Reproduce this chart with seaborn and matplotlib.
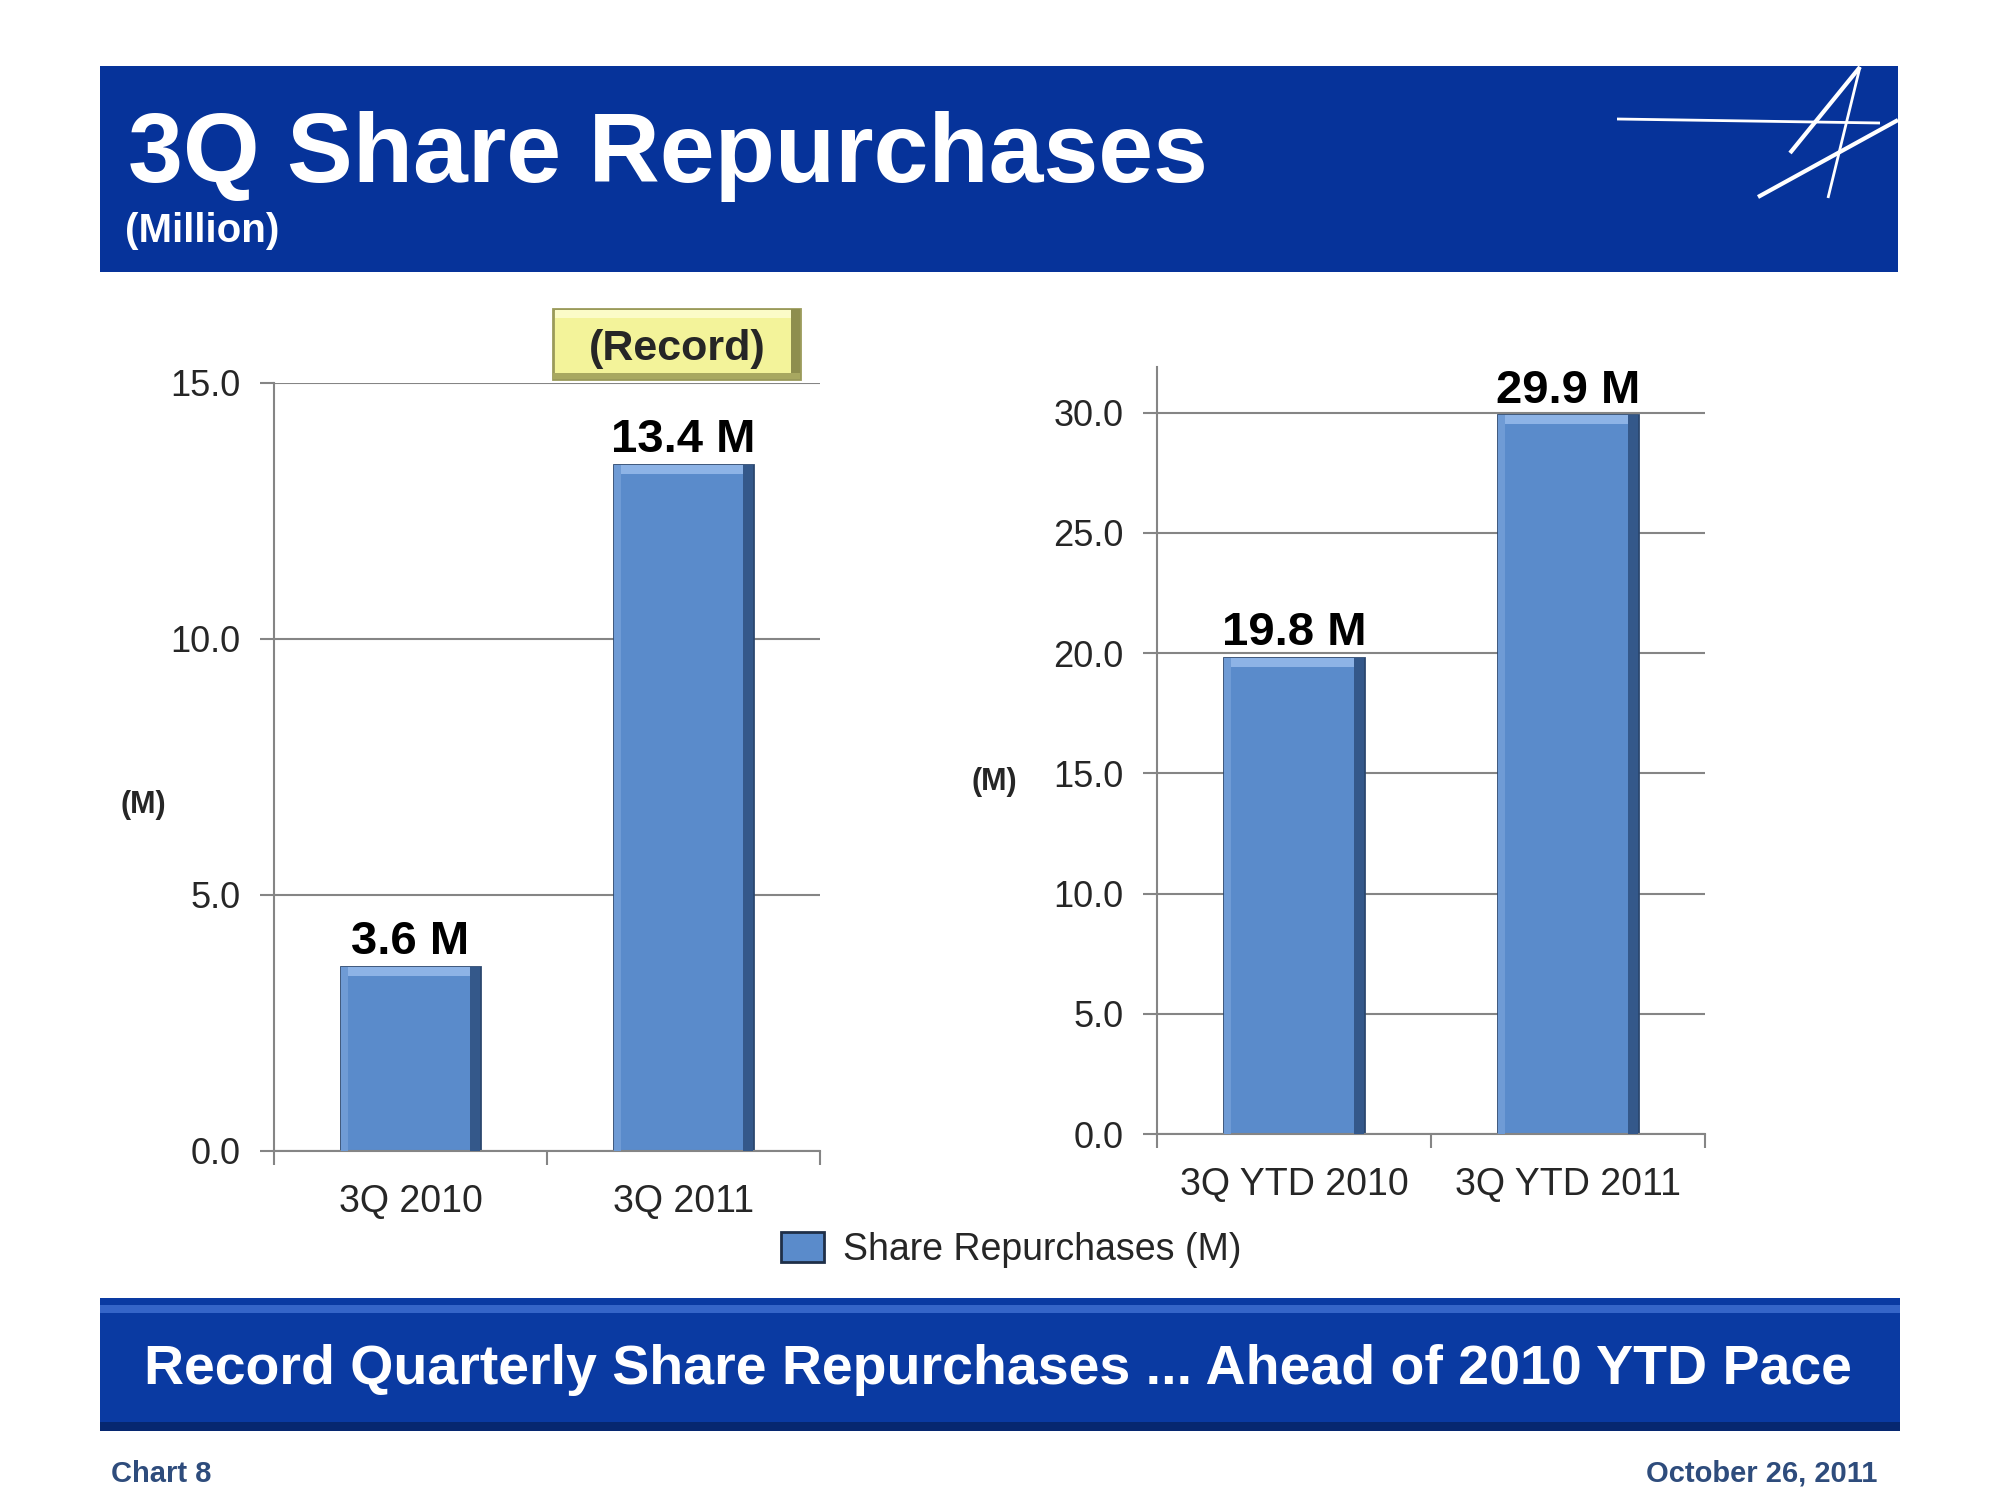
import matplotlib
matplotlib.use("Agg")
import matplotlib.pyplot as plt
from matplotlib.patches import Rectangle, Patch
from matplotlib.lines import Line2D
import seaborn as sns

# data
QTR_LABELS = ["3Q 2010", "3Q 2011"]
QTR_VALUES = [3.6, 13.4]
YTD_LABELS = ["3Q YTD 2010", "3Q YTD 2011"]
YTD_VALUES = [19.8, 29.9]
QTR_TICKS = [0.0, 5.0, 10.0, 15.0]
YTD_TICKS = [0.0, 5.0, 10.0, 15.0, 20.0, 25.0, 30.0]

BAR_COLOR = "#5A8BCB"
BAR_EDGE = "#2B4870"
BAND_BLUE = "#06339A"
GRID_GRAY = "#858585"

sns.set_theme(style="white")
plt.rcParams["font.family"] = ["Liberation Sans", "DejaVu Sans"]

fig = plt.figure(figsize=(20, 15), dpi=100)

# header band
fig.patches.append(Rectangle((0.05, 0.8187), 0.899, 0.1373, transform=fig.transFigure,
                             facecolor=BAND_BLUE, edgecolor="none", zorder=0))
fig.text(0.064, 0.879, "3Q Share Repurchases", color="white", fontsize=71,
         fontweight="bold", ha="left", va="baseline")
fig.text(0.0625, 0.846, "(Million)", color="white", fontsize=29,
         fontweight="bold", ha="left", va="center")

# logo strokes
def px(x, y):
    return x / 2000, 1 - y / 1500

logo = [((1617, 119), (1880, 123), 2.0),
        ((1860, 67), (1790, 153), 3.0),
        ((1860, 67), (1828, 198), 2.0),
        ((1898, 120), (1758, 197), 3.0)]
for a, b, w in logo:
    (x0, y0), (x1, y1) = px(*a), px(*b)
    fig.add_artist(Line2D([x0, x1], [y0, y1], color="white", lw=w,
                          transform=fig.transFigure, solid_capstyle="butt"))


def bevel(ax, ymax):
    # light top edge and dark right edge on each bar, from the bar geometry
    for p in list(ax.patches):
        x, y, w, h = p.get_x(), p.get_y(), p.get_width(), p.get_height()
        d = ymax * 0.012
        ax.add_patch(Rectangle((x, y + h - d), w, d, facecolor="#8DB3E6",
                               edgecolor="none", zorder=3))
        ax.add_patch(Rectangle((x + w * 0.93, y), w * 0.07, h, facecolor="#34588A",
                               edgecolor="none", zorder=3))
        ax.add_patch(Rectangle((x, y), w * 0.05, h, facecolor="#6F9BD5",
                               edgecolor="none", zorder=3))


def style_axes(ax, labels, values, ticks, ymax):
    sns.barplot(x=labels, y=values, ax=ax, color=BAR_COLOR, saturation=1,
                width=0.51, edgecolor=BAR_EDGE, linewidth=2, zorder=2)
    ax.set_ylim(0, ymax)
    ax.set_xlim(-0.5, len(labels) - 0.5)
    ax.set_yticks(ticks)
    ax.set_yticklabels([f"{t:.1f}" for t in ticks])
    ax.yaxis.grid(True, color=GRID_GRAY, lw=1.5)
    ax.xaxis.grid(False)
    ax.set_axisbelow(True)
    for s in ["top", "right"]:
        ax.spines[s].set_visible(False)
    for s in ["left", "bottom"]:
        ax.spines[s].set_color(GRID_GRAY)
        ax.spines[s].set_linewidth(1.5)
    ax.tick_params(axis="y", length=10, width=1.5, color=GRID_GRAY, direction="out",
                   labelsize=26, pad=14, left=True)
    ax.tick_params(axis="x", length=0, labelsize=27, pad=24)
    ax.set_xticks([i - 0.5 for i in range(len(labels) + 1)], minor=True)
    ax.tick_params(axis="x", which="minor", length=10, width=1.5, color=GRID_GRAY,
                   direction="out", bottom=True)
    ax.set_xlabel("")
    ax.set_ylabel("")
    for p, v in zip(ax.patches, values):
        ax.annotate(f"{v:.1f} M", (p.get_x() + p.get_width() / 2, p.get_height()),
                    xytext=(0, 9), textcoords="offset points", ha="center",
                    va="baseline", fontsize=34, fontweight="bold", color="black")
    bevel(ax, ymax)


ax1 = fig.add_axes([0.137, 0.2327, 0.273, 0.512])
style_axes(ax1, QTR_LABELS, QTR_VALUES, QTR_TICKS, 15.0)
fig.text(0.0715, 1 - 805 / 1500, "(M)", fontsize=22, fontweight="bold",
         ha="center", va="center")

ax2 = fig.add_axes([0.5785, 0.244, 0.274, 0.5113])
style_axes(ax2, YTD_LABELS, YTD_VALUES, YTD_TICKS, 31.9)
fig.text(0.497, 1 - 782 / 1500, "(M)", fontsize=22, fontweight="bold",
         ha="center", va="center")

# record box with a simple bevel
fig.patches.append(Rectangle((0.2765, 0.7473), 0.1235, 0.047, transform=fig.transFigure,
                             facecolor="#F3F39A", edgecolor="#9A9A5A", lw=2, zorder=1))
fig.patches.append(Rectangle((0.3955, 0.7473), 0.0045, 0.047, transform=fig.transFigure,
                             facecolor="#8E8E4E", edgecolor="none", zorder=1))
fig.patches.append(Rectangle((0.2765, 0.7473), 0.1235, 0.004, transform=fig.transFigure,
                             facecolor="#A8A860", edgecolor="none", zorder=1))
fig.patches.append(Rectangle((0.2775, 0.7883), 0.118, 0.005, transform=fig.transFigure,
                             facecolor="#FBFBC8", edgecolor="none", zorder=1))
fig.text(0.3385, 1 - 349 / 1500, "(Record)", fontsize=31, fontweight="bold",
         ha="center", va="center")

# legend
handle = Patch(facecolor=BAR_COLOR, edgecolor="#1F2F48", linewidth=2)
fig.legend(handles=[handle], labels=["Share Repurchases (M)"], loc="center",
           bbox_to_anchor=(0.5055, 1 - 1250 / 1500), frameon=False, fontsize=27,
           handlelength=1.15, handleheight=0.85, handletextpad=0.5)

# bottom band
fig.patches.append(Rectangle((0.05, 0.046), 0.9, 0.0887, transform=fig.transFigure,
                             facecolor="#0A3AA2", edgecolor="none", zorder=0))
fig.patches.append(Rectangle((0.05, 0.1247), 0.9, 0.005, transform=fig.transFigure,
                             facecolor="#3565C8", edgecolor="none", zorder=0))
fig.patches.append(Rectangle((0.05, 0.046), 0.9, 0.006, transform=fig.transFigure,
                             facecolor="#062770", edgecolor="none", zorder=0))
fig.text(0.499, 1 - 1370 / 1500,
         "Record Quarterly Share Repurchases ... Ahead of 2010 YTD Pace",
         color="white", fontsize=40, fontweight="bold", ha="center", va="center")

# footer
fig.text(0.0555, 1 - 1474 / 1500, "Chart 8", color="#2E4C7C", fontsize=21,
         fontweight="bold", ha="left", va="center")
fig.text(0.9385, 1 - 1474 / 1500, "October 26, 2011", color="#2E4C7C", fontsize=21,
         fontweight="bold", ha="right", va="center")

fig.savefig("out.png", dpi=100)
plt.close(fig)
